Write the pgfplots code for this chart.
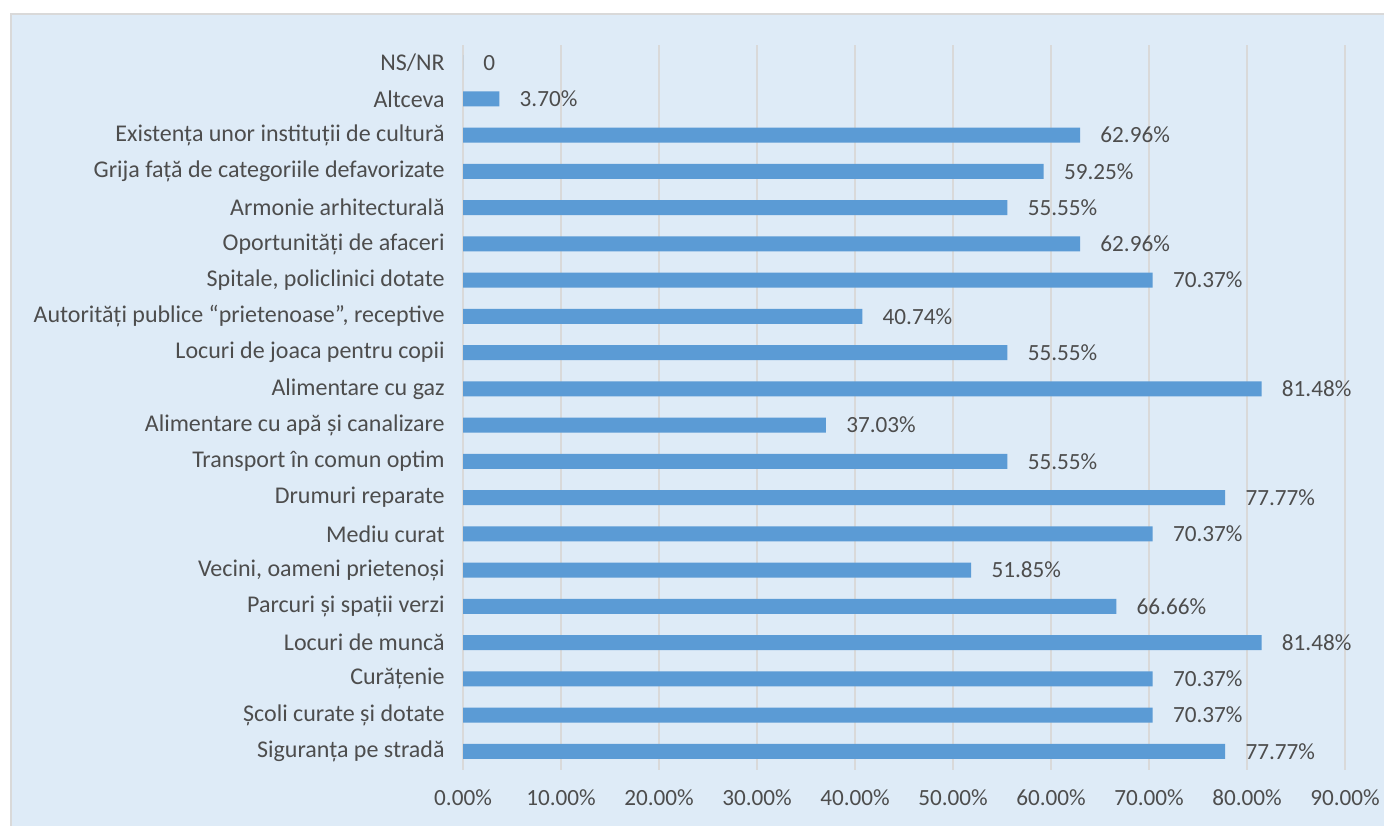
\documentclass[border=0pt]{standalone}
\usepackage{pgfplots}
\pgfplotsset{compat=1.18}
\usepackage{fontspec}
\setmainfont{Carlito}
\definecolor{bgblue}{HTML}{DEEBF7}
\definecolor{barblue}{HTML}{5B9BD5}
\definecolor{gridgray}{HTML}{D9D9D9}
\definecolor{txtgray}{HTML}{4D4D4D}
\begin{document}
\begin{tikzpicture}
\path[use as bounding box] (0,0) rectangle (692pt,-412.5pt);
\fill[bgblue, draw=gridgray, line width=1pt] (5.5pt,-7pt) rectangle (700pt,-420pt);
\begin{axis}[
    at={(231.5pt,-22.25pt)}, anchor=north west,
    scale only axis, width=441pt, height=362.5pt,
    xbar, bar width=7.5pt,
    xmin=0, xmax=90, ymin=-0.5, ymax=19.5,
    xtick={0,10,...,90},
    xticklabels={0.00\%,10.00\%,20.00\%,30.00\%,40.00\%,50.00\%,60.00\%,70.00\%,80.00\%,90.00\%},
    ytick={0,...,19},
    yticklabels={Siguranța pe stradă, Școli curate și dotate, Curățenie, Locuri de muncă,
        Parcuri și spații verzi, {Vecini, oameni prietenoși}, Mediu curat, Drumuri reparate,
        Transport în comun optim, Alimentare cu apă și canalizare, Alimentare cu gaz,
        Locuri de joaca pentru copii, {Autorități publice “prietenoase”, receptive},
        {Spitale, policlinici dotate}, Oportunități de afaceri, Armonie arhitecturală,
        Grija față de categoriile defavorizate, Existența unor instituții de cultură,
        Altceva, NS/NR},
    xmajorgrids, grid style={gridgray, line width=1pt},
    axis line style={draw=none}, major tick length=0pt,
    tick label style={text=txtgray},
    yticklabel style={inner sep=0pt, xshift=-9pt, font=\fontsize{12pt}{14pt}\selectfont},
    xticklabel style={inner sep=0pt, yshift=-10pt, font=\fontsize{11.6pt}{14pt}\selectfont},
    point meta=explicit symbolic,
    nodes near coords,
    nodes near coords style={anchor=west, inner sep=0pt, xshift=10pt,
        font=\fontsize{11.6pt}{14pt}\selectfont, text=txtgray},
]
\addplot[fill=barblue, draw=none] coordinates {
    (77.77,0) [77.77\%]
    (70.37,1) [70.37\%]
    (70.37,2) [70.37\%]
    (81.48,3) [81.48\%]
    (66.66,4) [66.66\%]
    (51.85,5) [51.85\%]
    (70.37,6) [70.37\%]
    (77.77,7) [77.77\%]
    (55.55,8) [55.55\%]
    (37.03,9) [37.03\%]
    (81.48,10) [81.48\%]
    (55.55,11) [55.55\%]
    (40.74,12) [40.74\%]
    (70.37,13) [70.37\%]
    (62.96,14) [62.96\%]
    (55.55,15) [55.55\%]
    (59.25,16) [59.25\%]
    (62.96,17) [62.96\%]
    (3.70,18) [3.70\%]
    (0,19) [0]
};
\end{axis}
\end{tikzpicture}
\end{document}
